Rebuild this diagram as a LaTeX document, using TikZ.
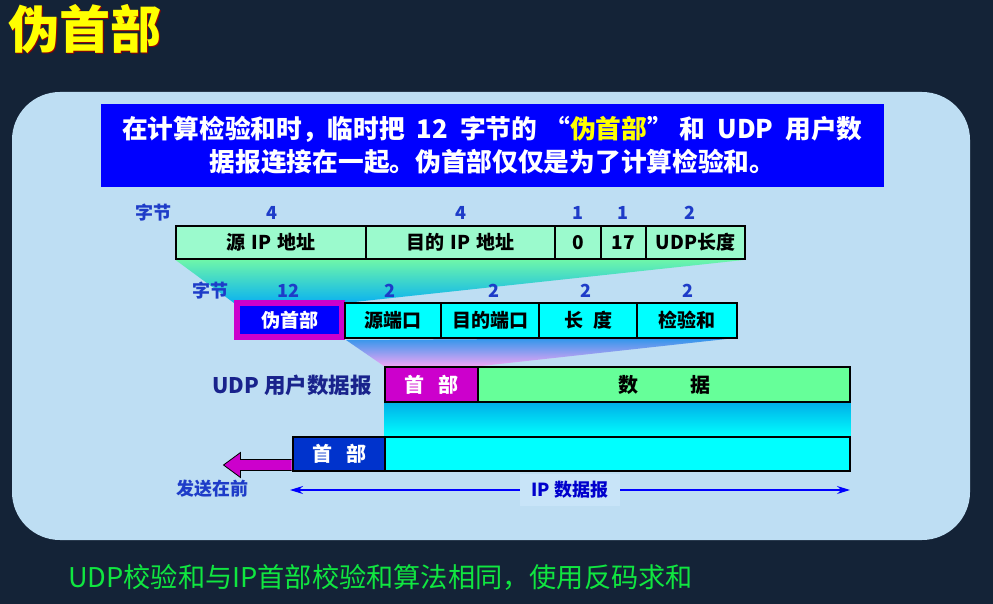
\documentclass[tikz,border=0pt]{standalone}
\usepackage{fontspec}
\setmainfont{Noto Sans CJK SC}
\usetikzlibrary{arrows.meta}
\definecolor{bgnavy}{RGB}{20,35,55}
\definecolor{panel}{RGB}{190,222,243}
\definecolor{rowgreen}{RGB}{155,250,205}
\definecolor{datagreen}{RGB}{102,255,153}
\definecolor{magentaX}{RGB}{204,0,204}
\definecolor{hdrblue}{RGB}{0,51,204}
\definecolor{lblblue}{RGB}{30,60,200}
\definecolor{navyX}{RGB}{25,35,140}
\definecolor{txtgreen}{RGB}{16,230,64}
\definecolor{patch}{RGB}{200,228,248}
\definecolor{titley}{RGB}{255,255,0}
\definecolor{cyanX}{RGB}{0,255,255}
\definecolor{pureblue}{RGB}{0,0,255}
\pgfdeclarelayer{back}
\pgfdeclarelayer{mid}
\pgfsetlayers{back,mid,main}
\begin{document}
\begin{tikzpicture}[x=1pt,y=-1pt,
  cellA/.style={draw=black,line width=1.5pt,inner sep=0pt,minimum height=33pt,fill=rowgreen,font=\bfseries\fontsize{19}{19}\selectfont},
  cellB/.style={draw=black,line width=1.5pt,inner sep=0pt,minimum height=35pt,fill=cyanX,font=\bfseries\fontsize{19}{19}\selectfont},
  cellC/.style={draw=black,line width=1.5pt,inner sep=0pt,minimum height=35pt,font=\bfseries\fontsize{20}{20}\selectfont},
  numlbl/.style={text=lblblue,inner sep=0pt,font=\bfseries\fontsize{18}{18}\selectfont},
]
\useasboundingbox (0,0) rectangle (993,604);
\begin{pgfonlayer}{back}
\fill[bgnavy] (0,0) rectangle (993,604);
\fill[panel, rounded corners=48pt] (12,92) rectangle (970,540);
\end{pgfonlayer}

% title
\node[anchor=west,inner sep=0pt,text=red!60!black,font=\bfseries\fontsize{51}{51}\selectfont] (titlesh) at (9,29.8) {伪首部};
\node[anchor=west,inner sep=0pt,text=titley,font=\bfseries\fontsize{51}{51}\selectfont] (title) at (8,29) {伪首部};

% blue banner
\node[fill=pureblue,minimum width=783pt,minimum height=83pt,inner sep=0pt,text=white,font=\bfseries\fontsize{25.7}{33}\selectfont,align=center] (banner) at (492.5,145.5)
 {在计算检验和时，临时把\hspace{12pt}12\hspace{12pt}字节的\hspace{7pt}“{\color{titley}伪首部}”\hspace{7pt}和\hspace{12pt}UDP\hspace{12pt}用户数\\据报连接在一起。伪首部仅仅是为了计算检验和。};

% top row
\node[cellA,minimum width=190pt] (srcip) at (271,242.5) {源\hspace{6pt}IP\hspace{6pt}地址};
\node[cellA,minimum width=189pt] (dstip) at (460.5,242.5) {目的\hspace{6pt}IP\hspace{6pt}地址};
\node[cellA,minimum width=46pt] (zero) at (578,242.5) {0};
\node[cellA,minimum width=45pt] (proto) at (623.5,242.5) {17};
\node[cellA,minimum width=99pt] (ulen) at (695.5,242.5) {UDP长度};

% second row
\node[fill=pureblue,draw=magentaX,line width=6pt,minimum width=105pt,minimum height=34pt,inner sep=0pt,text=white,font=\bfseries\fontsize{19}{19}\selectfont] (pseudo) at (289.5,320) {伪首部};
\node[cellB,minimum width=96pt] (sport) at (393,320.5) {源端口};
\node[cellB,minimum width=98pt] (dport) at (490,320.5) {目的端口};
\node[cellB,minimum width=98pt] (len) at (588,320.5) {长\hspace{10pt}度};
\node[cellB,minimum width=100pt] (csum) at (687,320.5) {检验和};

% labels
\node[numlbl] (by1) at (153,213) {字节};
\node[numlbl] (n1) at (272,213) {4};
\node[numlbl] (n2) at (461,213) {4};
\node[numlbl] (n3) at (578,213) {1};
\node[numlbl] (n4) at (623,213) {1};
\node[numlbl] (n5) at (690,213) {2};
\node[numlbl] (by2) at (210,291) {字节};
\node[numlbl] (m1) at (288,291) {12};
\node[numlbl] (m2) at (390,291) {2};
\node[numlbl] (m3) at (494,291) {2};
\node[numlbl] (m4) at (586,291) {2};
\node[numlbl] (m5) at (688,291) {2};

% UDP datagram
\node[cellC,fill=magentaX,text=white,minimum width=93pt] (udph) at (431.5,384.5) {首\hspace{14pt}部};
\node[cellC,fill=datagreen,minimum width=372pt] (udpd) at (664,384.5) {数\hspace{52pt}据};
\node[anchor=east,inner sep=0pt,text=navyX,font=\bfseries\fontsize{21.5}{21.5}\selectfont] (udplbl) at (372,385) {UDP 用户数据报};

% IP datagram
\node[cellC,fill=cyanX,minimum width=465pt,minimum height=34pt] (ipd) at (617.5,454) {};
\node[cellC,fill=hdrblue,text=white,minimum width=92pt,minimum height=34pt] (iph) at (339,454) {首\hspace{14pt}部};

% gradients
\begin{pgfonlayer}{mid}
\shade[top color={rgb,255:red,110;green,246;blue,170}, middle color={rgb,255:red,75;green,232;blue,195}, bottom color={rgb,255:red,10;green,178;blue,240}]
  (srcip.south west) -- (ulen.south east) -- ([yshift=-3pt]pseudo.north east) -- ([yshift=-3pt]pseudo.north west) -- cycle;
\shade[top color={rgb,255:red,45;green,150;blue,235}, bottom color={rgb,255:red,240;green,165;blue,245}]
  ([xshift=1pt]pseudo.south east) -- ([yshift=1pt]csum.south east) -- (udph.north east) -- (udph.north west) -- cycle;
\shade[top color={rgb,255:red,0;green,176;blue,232}, bottom color=cyanX] (udph.south west) rectangle (ipd.north east);
\end{pgfonlayer}

% send arrow
\draw[fill=magentaX,draw=black,line width=0.8pt]
  ([yshift=-5.5pt,xshift=-0.75pt]iph.west) -- ++(-51,0) -- ++(0,-7) -- ++(-17,12.5) -- ++(17,12.5) -- ++(0,-7) -- ++(51,0);
\node[text=lblblue,inner sep=0pt,font=\bfseries\fontsize{18}{18}\selectfont] (send) at (212,489) {发送在前};

% IP datagram span arrow
\coordinate (ipl) at (290,490);
\coordinate (ipr) at (850,490);
\draw[pureblue,line width=1.3pt,{Stealth[length=13pt,width=8pt]}-{Stealth[length=13pt,width=8pt]}] (ipl) -- (ipr)
  node[midway,fill=patch,text=pureblue!80!black,inner xsep=12pt,inner ysep=7pt,font=\bfseries\fontsize{18}{18}\selectfont] (iplbl) {IP 数据报};

% bottom note
\node[anchor=west,inner sep=0pt,text=txtgreen,font=\fontsize{27.2}{27.2}\selectfont] (note) at (68,577) {UDP校验和与IP首部校验和算法相同，使用反码求和};
\end{tikzpicture}
\end{document}
